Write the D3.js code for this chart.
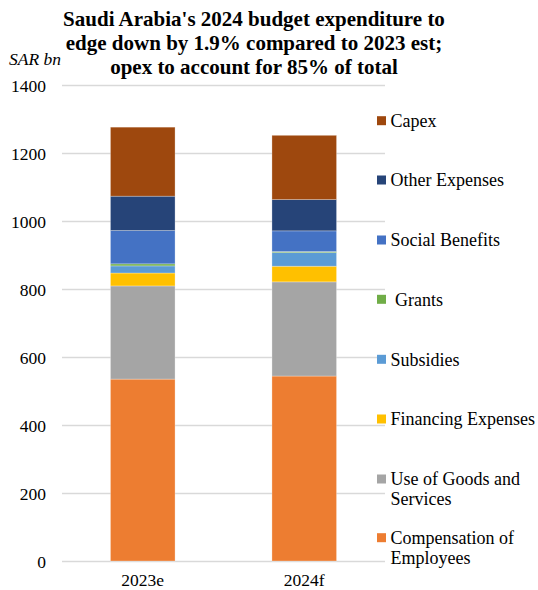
<!DOCTYPE html>
<html><head><meta charset="utf-8">
<script src="https://cdn.jsdelivr.net/npm/d3@7"></script>
<style>body{margin:0;background:#fff}svg{display:block}text{font-family:"Liberation Serif","Times New Roman",serif}</style>
</head><body><svg id="c" width="538" height="590"></svg>
<script>
const categories = ["2023e", "2024f"];
const seriesNames = ["Compensation of Employees", "Use of Goods and Services", "Financing Expenses", "Subsidies", " Grants", "Social Benefits", "Other Expenses", "Capex"];
const compensation = [535, 544];
const goodsServices = [274, 277];
const financing = [38, 46];
const subsidies = [21, 40];
const grants = [6, 3];
const socialBenefits = [98, 61];
const otherExpenses = [101, 92];
const capex = [203, 189];
const yTicks = [0, 200, 400, 600, 800, 1000, 1200, 1400];
const colors = ["#ED7D31", "#A5A5A5", "#FFC000", "#5B9BD5", "#70AD47", "#4472C4", "#264478", "#9E480E"];
const legendLines = [["Compensation of", "Employees"], ["Use of Goods and", "Services"], ["Financing Expenses"], ["Subsidies"], [" Grants"], ["Social Benefits"], ["Other Expenses"], ["Capex"]];

const seriesValues = [compensation, goodsServices, financing, subsidies, grants, socialBenefits, otherExpenses, capex];
const table = categories.map((c, i) => {
  const row = {cat: c};
  seriesNames.forEach((s, k) => row[s] = seriesValues[k][i]);
  return row;
});
const stacked = d3.stack().keys(seriesNames)(table);

const svg = d3.select("#c");
const x = d3.scaleBand().domain(categories).range([62, 385]).paddingInner(0.6).paddingOuter(0.3);
const y = d3.scaleLinear().domain([0, 1400]).range([561, 85]);

// gridlines
svg.append("g").selectAll("line").data(yTicks).join("line")
  .attr("x1", 62).attr("x2", 385)
  .attr("y1", d => Math.round(y(d)) + 0.5).attr("y2", d => Math.round(y(d)) + 0.5)
  .attr("stroke", "#d9d9d9").attr("stroke-width", 1.3);

// y axis labels
const yAxis = d3.axisLeft(y).tickValues(yTicks).tickSize(0).tickPadding(0).tickFormat(d3.format("d"));
const ga = svg.append("g").attr("transform", "translate(46,0)").call(yAxis);
ga.select(".domain").remove();
ga.selectAll("text").attr("font-size", 17.5).attr("fill", "#000").attr("font-family", "Liberation Serif").attr("dy", "0.35em");

// bars
svg.append("g").selectAll("g").data(stacked).join("g")
  .attr("fill", (d, i) => colors[i])
  .selectAll("rect").data(d => d).join("rect")
  .attr("x", d => x(d.data.cat))
  .attr("width", x.bandwidth())
  .attr("y", d => y(d[1]))
  .attr("height", d => y(d[0]) - y(d[1]))
  .attr("stroke", "#ffffff").attr("stroke-opacity", 0.35).attr("stroke-width", 0.8);

// x labels
const xAxis = d3.axisBottom(x).tickSize(0).tickPadding(0);
const gx = svg.append("g").attr("transform", "translate(0,0)").call(xAxis);
gx.select(".domain").remove();
gx.selectAll("text").attr("font-size", 17.5).attr("fill", "#000").attr("font-family", "Liberation Serif").attr("y", 585.5).attr("dy", 0);

// title
const title = ["Saudi Arabia's 2024 budget expenditure to", "edge down by 1.9% compared to 2023 est;", "opex to account for 85% of total"];
svg.append("g").selectAll("text").data(title).join("text")
  .attr("x", 254).attr("y", (d, i) => 26 + i * 24)
  .attr("text-anchor", "middle").attr("font-weight", "bold").attr("font-size", 21).attr("fill", "#000")
  .text(d => d);

svg.append("text").attr("x", 9).attr("y", 65).attr("font-style", "italic").attr("font-size", 17.5).attr("fill", "#000").text("SAR bn");

// legend (top-down: Capex first)
const legendY = [537.7, 479, 419, 359.3, 299.3, 240, 180, 120.7];
const lg = svg.append("g");
seriesNames.forEach((s, k) => {
  const cy = legendY[k];
  lg.append("rect").attr("x", 377).attr("y", cy - 4.5).attr("width", 9).attr("height", 9).attr("fill", colors[k]);
  const t = lg.append("text").attr("x", 390.5).attr("y", cy).attr("font-size", 18).attr("fill", "#000").attr("xml:space", "preserve").style("white-space", "pre");
  legendLines[k].forEach((ln, j) => t.append("tspan").attr("x", 390.5).attr("dy", j === 0 ? "0.35em" : 20).text(ln));
});
</script></body></html>
